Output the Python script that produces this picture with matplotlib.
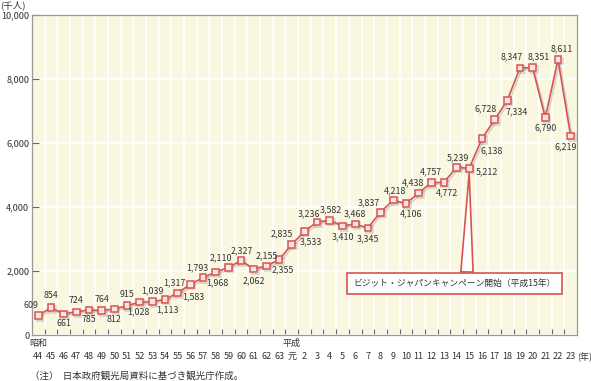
import matplotlib.pyplot as plt
import matplotlib.patheffects as pe
from matplotlib.ticker import FuncFormatter

plt.rcParams['font.family'] = ['Noto Sans CJK JP', 'DejaVu Sans']

# 訪日外客数（千人）昭和44年〜平成23年
years = ['44', '45', '46', '47', '48', '49', '50', '51', '52', '53', '54', '55', '56',
         '57', '58', '59', '60', '61', '62', '63',
         '元', '2', '3', '4', '5', '6', '7', '8', '9', '10', '11', '12', '13', '14',
         '15', '16', '17', '18', '19', '20', '21', '22', '23']
visitors = [609, 854, 661, 724, 785, 764, 812, 915, 1028, 1039, 1113, 1317, 1583,
            1793, 1968, 2110, 2327, 2062, 2155, 2355,
            2835, 3236, 3533, 3582, 3410, 3468, 3345, 3837, 4218, 4106, 4438, 4757,
            4772, 5239, 5212, 6138, 6728, 7334, 8347, 8351, 6790, 8611, 6219]
eras = [('昭和', '44'), ('平成', '元')]
campaign_year = '15'
campaign_text = 'ビジット・ジャパンキャンペーン開始（平成15年）'

# value label offsets from each point (pixels, label centre)
lab_dx = [-7, 0, 0, 0, 0, 0, 0, 0, -1, 0, 2, -3, 3, -6, 2, -8, 1, 0, 0, 4,
          -10, 5, -6, 1, 0, 0, 0, -12, 2, 5, -6, 0, 3, 1, 18, 10, -9, 10, -8, 6, 0, 4, -5]
lab_dy = [10, 12, -10, 11, -10, 11, -10, 11, -10, 11, -10, 10, -12, 10, -11, 10, 10, -12, 10, -10,
          10, 18, -20, 11, -11, 10, -11, 9, 9, -10, 10, 11, -11, 10, -4, -12, 11, -11, 11, 11, -10, 11, -11]

red = '#D9534F'
txt = '#333333'

fig = plt.figure(figsize=(5.91, 3.81), dpi=100)
ax = fig.add_axes([0.0541, 0.1207, 0.9222, 0.8399])
ax.set_facecolor('#FAF7E1')

x = list(range(len(years)))
line, = ax.plot(x, visitors, color=red, lw=1.2, marker='s', ms=4.8,
                mfc='#FBE6E6', mec=red, mew=1.1, zorder=5)
line.set_path_effects([pe.SimpleLineShadow(offset=(1.2, -1.2), shadow_color='#888888', alpha=0.35),
                       pe.Normal()])

px = 72 / fig.dpi
for xi, v, dx, dy in zip(x, visitors, lab_dx, lab_dy):
    ax.annotate(f'{v:,}', (xi, v), xytext=(dx * px, dy * px), textcoords='offset points',
                ha='center', va='center', fontsize=6.4, color=txt, zorder=6)

ax.set_xlim(-0.5, len(years) - 0.5)
ax.set_ylim(0, 10000)
ax.set_yticks(range(0, 10001, 2000))
ax.yaxis.set_major_formatter(FuncFormatter(lambda v, p: f'{int(v):,}'))
ax.set_xticks(x)
ax.set_xticklabels(years)
ax.set_xticks([i + 0.5 for i in x[:-1]], minor=True)

ax.tick_params(axis='y', direction='in', length=5, width=0.8, color='#666666',
               labelsize=6.6, labelcolor=txt, pad=2)
ax.tick_params(axis='x', which='major', length=0, labelsize=6.5, labelcolor=txt, pad=12.5)
ax.tick_params(axis='x', which='minor', direction='in', length=4, width=0.8, color='#666666')

ax.grid(True, axis='y', color='white', lw=1.2)
ax.grid(True, axis='x', which='minor', color='white', lw=1.2)
ax.set_axisbelow(True)
for s in ax.spines.values():
    s.set_color('#999999')
    s.set_linewidth(0.9)

# era labels
for era, first in eras:
    ax.annotate(era, (years.index(first), 0), xycoords=('data', 'axes fraction'),
                xytext=(0, -3), textcoords='offset points', ha='center', va='top',
                fontsize=6.5, color=txt)
ax.annotate('(年)', (1, 0), xycoords='axes fraction', xytext=(0, -12.5),
            textcoords='offset points', ha='left', va='top', fontsize=6.5, color=txt)
fig.text(0.0, 0.998, '(千人)', ha='left', va='top', fontsize=6.8, color=txt)
fig.text(0.05, 0.013, '（注）  日本政府観光局資料に基づき観光庁作成。', ha='left', va='center',
         fontsize=6.8, color=txt)

# campaign callout
ci = years.index(campaign_year, 20)
ax.annotate(campaign_text, (ci, visitors[ci]), xytext=(ci - 1.15, 1620),
            ha='center', va='center', fontsize=6.3, color=txt, zorder=4,
            bbox=dict(boxstyle='square,pad=0.7', fc='white', ec=red, lw=1.2),
            arrowprops=dict(arrowstyle='wedge,tail_width=1.4,shrink_factor=0.5',
                            fc='white', ec=red, lw=1.2, relpos=(0.56, 1.0),
                            shrinkA=0, shrinkB=4))

fig.savefig('out.png', dpi=100)
